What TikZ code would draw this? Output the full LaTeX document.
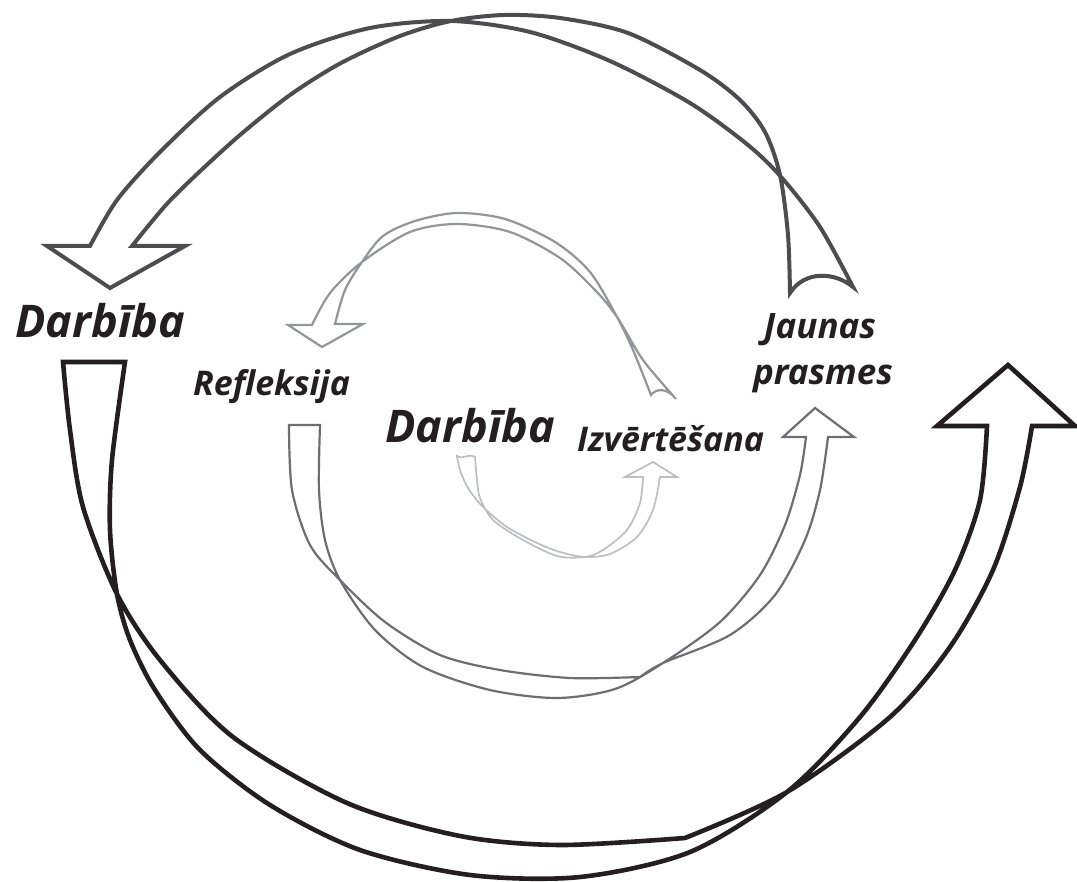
\documentclass[tikz,border=0pt]{standalone}
\usepackage{fontspec}
\setmainfont{Open Sans}
\definecolor{cBlack}{HTML}{231F20}
\definecolor{cDark}{HTML}{4D4D4F}
\definecolor{cMid}{HTML}{6D6E71}
\definecolor{cRef}{HTML}{939598}
\definecolor{cLight}{HTML}{BCBEC0}
\tikzset{
  rib/.style={line join=miter, miter limit=10},
  ribBlack/.style={rib, draw=cBlack, line width=4.6pt},
  ribDark/.style={rib, draw=cDark, line width=4pt},
  ribMid/.style={rib, draw=cMid, line width=2.2pt},
  ribRef/.style={rib, draw=cRef, line width=2.2pt},
  ribLight/.style={rib, draw=cLight, line width=1.7pt},
  lbl/.style={text=cBlack, inner sep=0pt, font=\bfseries\itshape},
}
\begin{document}
\begin{tikzpicture}[x=1pt,y=-1pt]
\useasboundingbox (0,0) rectangle (1077,882);

% outer black arrow
\draw[ribBlack] plot[smooth,tension=0.5] coordinates {(63,362) (70,430) (83,507) (117,594) (160,660) (233,737) (347,803) (460,836) (560,845) (685,838)}
  -- plot[smooth,tension=0.5] coordinates {(685,838) (787,792) (890,717) (950,647) (993,570) (1020,487) (1032,426)}
  -- (1075,426) -- (1008,365) -- (937,426) -- (987,426)
  -- plot[smooth,tension=0.5] coordinates {(987,426) (980,500) (955,570) (915,640) (860,717) (787,792) (690,852) (580,877) (470,875) (360,850) (270,805) (200,750) (155,690) (130,640) (117,594) (110,530) (112,460) (125,362)}
  -- cycle;

% top dark arrow
\draw[ribDark] plot[smooth,tension=0.5] coordinates {(90,246) (117,200) (160,152) (220,97) (290,54) (370,28) (451,21) (530,32) (610,61) (690,103) (748,145) (782,178) (820,227) (853,287)}
  .. controls (835,272) and (805,270) .. (790,293)
  -- plot[smooth,tension=0.5] coordinates {(790,293) (788,235) (780,175) (765,132) (740,100) (700,70) (628,33) (560,18) (504,15) (451,21) (400,36) (341,63) (290,95) (240,135) (195,176) (165,206) (132,246)}
  -- (185,246) -- (110,288) -- (47,246) -- cycle;

% Refleksija arrow
\draw[ribRef] plot[smooth,tension=0.5] coordinates {(312,325) (330,293) (362,262) (410,232) (457,224) (510,232) (560,258) (595,290) (617,317) (643,360) (676,399)}
  .. controls (668,388) and (656,388) .. (651,395)
  -- plot[smooth,tension=0.5] coordinates {(651,395) (633,350) (617,317) (590,272) (555,242) (505,219) (457,213) (415,221) (383,236) (362,262) (345,290) (335,324)}
  -- (363,324) -- (322,347) -- (288,325) -- cycle;

% lower middle arrow
\draw[ribMid] plot[smooth,tension=0.5] coordinates {(289,425) (292,490) (310,545) (340,580) (385,622) (440,655) (500,670) (570,678) (640,677)}
  -- plot[smooth,tension=0.5] coordinates {(640,677) (663,663) (730,635) (775,595) (805,540) (820,490) (828,437)}
  -- (854,437) -- (815,408) -- (783,437) -- (806,437)
  -- plot[smooth,tension=0.5] coordinates {(806,437) (800,475) (785,525) (760,575) (720,622) (663,663) (615,689) (557,698) (490,690) (423,667) (375,630) (340,580) (325,540) (319,490) (320,425)}
  -- cycle;

% inner light arrow
\draw[ribLight] plot[smooth,tension=0.5] coordinates {(457,456) (460,470) (468,488) (483,507) (507,527) (537,543) (560,552) (585,557) (610,554) (637,537) (653,510) (660,477)}
  -- (677,477) -- (653,462) -- (625,477) -- (643,477)
  -- plot[smooth,tension=0.5] coordinates {(643,477) (640,503) (627,530) (603,550) (585,557) (557,556) (523,540) (493,520) (480,498) (477,480) (475,457)}
  .. controls (468,453) and (463,460) .. (457,456) -- cycle;

% labels
\node[lbl, anchor=base west, font=\bfseries\itshape\fontsize{45}{48}\selectfont] (darbL) at (15,338) {Darbība};
\node[lbl, anchor=base west, font=\bfseries\itshape\fontsize{34}{40}\selectfont] (refl) at (193,396) {Refleksija};
\node[lbl, anchor=base west, font=\bfseries\itshape\fontsize{45}{48}\selectfont] (darbC) at (385,443) {Darbība};
\node[lbl, anchor=base west, font=\bfseries\itshape\fontsize{34}{40}\selectfont] (izv) at (577,452) {Izvērtēšana};
\node[lbl, anchor=base, font=\bfseries\itshape\fontsize{35}{40}\selectfont] (jaun) at (820,339) {Jaunas};
\node[lbl, anchor=base, font=\bfseries\itshape\fontsize{35}{40}\selectfont] (pras) at (823,385) {prasmes};
\end{tikzpicture}
\end{document}
